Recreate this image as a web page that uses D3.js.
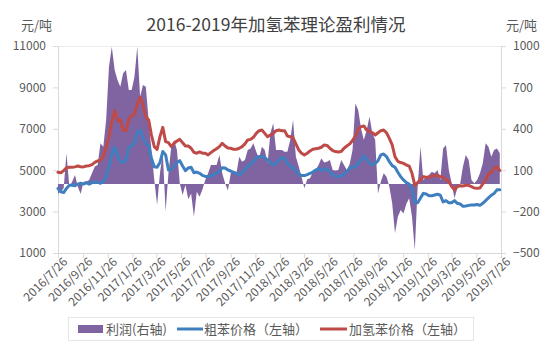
<!DOCTYPE html>
<html><head><meta charset="utf-8">
<script src="https://cdn.jsdelivr.net/npm/d3@7/dist/d3.min.js"></script>
<style>
html,body{margin:0;padding:0;background:#fff;}
svg text{font-family:"Noto Sans CJK SC","Noto Sans",sans-serif;}
</style></head><body>
<svg id="c" width="553" height="350"></svg>
<script>
const title = "2016-2019年加氢苯理论盈利情况";
const startDate = "2016/7/26";
const stepDays = 7;
const xTickLabels = ["2016/7/26","2016/9/26","2016/11/26","2017/1/26","2017/3/26","2017/5/26","2017/7/26","2017/9/26","2017/11/26","2018/1/26","2018/3/26","2018/5/26","2018/7/26","2018/9/26","2018/11/26","2019/1/26","2019/3/26","2019/5/26","2019/7/26"];
const leftTicks = [1000,3000,5000,7000,9000,11000];
const rightTicks = [-500,-200,100,400,700,1000];
// 加氢苯价格（左轴）
const hydroPrice = [4900,4880,4980,5120,5140,5140,5160,5200,5170,5160,5200,5220,5270,5380,5450,5490,5650,6140,6620,7350,
7880,7390,7430,6940,6910,7460,7650,7680,8230,8520,8150,7560,7430,6700,6140,6010,6620,7070,6380,6330,
6140,6300,6410,6490,6330,6170,6170,6060,5860,5820,5880,5820,5820,5740,5850,5950,6040,6140,6300,6170,
6070,6060,6010,6010,6060,6140,6270,6460,6490,6590,6780,6910,6940,6780,6620,6700,6780,6910,6940,6910,
6910,6650,6620,6560,6270,5980,5820,5740,5820,5930,6010,6040,6060,6110,6220,6200,6060,5950,5900,5880,
5900,6060,6170,6270,6430,6650,6980,7100,7140,6940,6880,6810,6700,6810,6910,6940,6810,6540,6220,5650,
5430,5370,5330,5250,5200,4850,4270,4400,4560,4690,4660,4670,4710,4740,4750,4690,4660,4530,4460,4210,
4050,4210,4250,4240,4270,4270,4210,4140,4130,4140,4340,4530,4820,4880,5090,5170,4980];
// 粗苯价格（左轴）
const crudePrice = [4120,3960,3920,4120,4270,4270,4250,4330,4370,4330,4400,4330,4400,4430,4420,4370,4450,4690,5170,5740,
6110,5740,5410,5370,5490,6110,6170,6300,6810,6940,6540,6300,6170,5580,5170,5140,5370,5900,5740,5010,
5040,5200,5370,5460,5200,4980,5110,5140,4880,4910,4850,4750,4700,4690,4720,4790,4850,4930,5120,5110,
5010,4960,4900,4850,4770,4880,5040,5170,5300,5410,5580,5660,5660,5610,5490,5370,5250,5330,5490,5620,
5580,5330,5200,5110,4980,4820,4740,4740,4790,4850,4910,5010,5080,4980,5080,5040,4930,4790,4720,4690,
4720,4820,4930,5090,5160,5170,5330,5490,5690,5530,5330,5270,5320,5460,5740,5780,5660,5410,5220,5140,
4900,4690,4530,4400,4330,4120,3430,3430,3660,3880,3850,3760,3760,3800,3840,3790,3470,3530,3430,3430,
3530,3400,3370,3260,3270,3300,3320,3320,3340,3300,3400,3530,3660,3790,3880,4050,4050];
// 利润(右轴)
const profit = [-70,-55,-30,222,-20,17,65,-20,-72,17,17,29,77,126,138,295,270,464,850,995,
826,753,705,802,826,681,681,778,995,633,717,705,464,246,29,-152,77,222,-200,77,
270,319,246,5,-80,-7,-111,-68,-237,-56,-92,-39,29,77,138,138,138,210,77,5,
-48,77,89,77,198,162,174,246,258,295,234,186,270,246,150,367,440,246,246,246,
234,234,319,464,198,126,53,-31,34,41,89,101,138,186,155,162,174,101,97,101,
174,138,101,145,246,584,536,403,319,391,488,367,319,-68,17,77,53,-19,-140,-357,
-237,-188,-213,-145,-104,-237,-480,-19,270,29,53,65,89,77,101,29,258,283,101,5,
-104,-31,0,126,210,174,29,5,29,77,150,295,270,198,246,258,222];
const legendItems = ["利润(右轴)","粗苯价格（左轴）","加氢苯价格（左轴）"];

const colors = {profit:"#8064A2", crude:"#3F7FBF", hydro:"#BE4B48", axis:"#D9D9D9", text:"#595959"};
const parseD = s => { const p = s.split("/").map(Number); return new Date(p[0], p[1]-1, p[2]); };
const t0 = parseD(startDate);
const dates = hydroPrice.map((_, i) => d3.timeDay.offset(t0, i*stepDays));
const tickDates = xTickLabels.map(parseD);

const svg = d3.select("#c");
const L = 58, R = 501, T = 46, B = 253;
const x = d3.scaleTime().domain([tickDates[0], tickDates[tickDates.length-1]]).range([L, R]);
const yL = d3.scaleLinear().domain([1000, 11000]).range([B, T]);
const yR = d3.scaleLinear().domain([-500, 1000]).range([B, T]);

// title
svg.append("text").attr("x", 276).attr("y", 31).attr("text-anchor","middle")
  .attr("font-size", 17.5).attr("fill", "#404040").text(title);
svg.append("text").attr("x", 21).attr("y", 30).attr("font-size", 13).attr("fill", colors.text).text("元/吨");
svg.append("text").attr("x", 537).attr("y", 30).attr("text-anchor","end").attr("font-size", 13).attr("fill", colors.text).text("元/吨");

// top line
svg.append("line").attr("x1", L).attr("x2", R).attr("y1", T+0.5).attr("y2", T+0.5).attr("stroke", "#EDEDED");

// axes
const gL = svg.append("g").attr("transform", `translate(${L},0)`)
  .call(d3.axisLeft(yL).tickValues(leftTicks).tickSize(5).tickPadding(7).tickFormat(d3.format("d")));
const gR = svg.append("g").attr("transform", `translate(${R},0)`)
  .call(d3.axisRight(yR).tickValues(rightTicks).tickSize(5).tickPadding(7).tickFormat(d3.format("d")));
const gX = svg.append("g").attr("transform", `translate(0,${B})`)
  .call(d3.axisBottom(x).tickValues(tickDates).tickSize(5).tickFormat((d,i)=>xTickLabels[i]));
[gL,gR,gX].forEach(g=>{
  g.select(".domain").attr("stroke", colors.axis);
  g.selectAll(".tick line").attr("stroke", colors.axis);
  g.selectAll("text").attr("font-size", 12).attr("fill", colors.text)
    .attr("font-family", '"Noto Sans CJK SC",sans-serif');
});
gX.selectAll(".tick text").attr("text-anchor","end").attr("dy", 0)
  .attr("transform", "translate(4,4) rotate(-45)").attr("y", 8).attr("x", 0);

// profit (dense columns drawn as filled area to baseline)
const area = d3.area().x((d,i)=>x(dates[i])).y0(yR(0)).y1(d=>yR(d)).curve(d3.curveLinear);
svg.append("path").datum(profit).attr("d", area).attr("fill", colors.profit);

const line = d3.line().x((d,i)=>x(dates[i])).y(d=>yL(d)).curve(d3.curveLinear);
svg.append("path").datum(crudePrice).attr("d", line).attr("fill","none")
  .attr("stroke", colors.crude).attr("stroke-width", 3).attr("stroke-linejoin","round").attr("stroke-linecap","round");
svg.append("path").datum(hydroPrice).attr("d", line).attr("fill","none")
  .attr("stroke", colors.hydro).attr("stroke-width", 3).attr("stroke-linejoin","round").attr("stroke-linecap","round");

// legend
const lg = svg.append("g");
lg.append("rect").attr("x", 68.5).attr("y", 317.5).attr("width", 405).attr("height", 23)
  .attr("fill", "#fff").attr("stroke", "#E6E6E6");
lg.append("rect").attr("x", 78).attr("y", 325).attr("width", 25).attr("height", 8).attr("fill", colors.profit);
lg.append("line").attr("x1", 177).attr("x2", 203).attr("y1", 329).attr("y2", 329).attr("stroke", colors.crude).attr("stroke-width", 3);
lg.append("line").attr("x1", 320).attr("x2", 347).attr("y1", 329).attr("y2", 329).attr("stroke", colors.hydro).attr("stroke-width", 3);
const lx = [106, 204, 349];
legendItems.forEach((t,i)=>{
  lg.append("text").attr("x", lx[i]).attr("y", 333.5).attr("font-size", 13).attr("fill", colors.text).text(t);
});
</script></body></html>
